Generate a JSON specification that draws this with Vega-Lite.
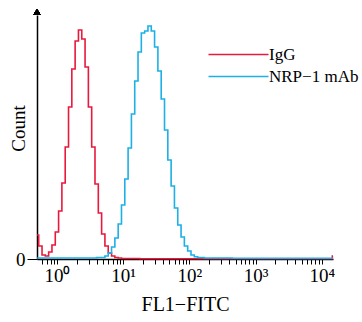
{
  "$schema": "https://vega.github.io/schema/vega-lite/v6.json",
  "width": 296,
  "height": 244,
  "autosize": "none",
  "padding": {"left": 37, "top": 15, "right": 29, "bottom": 63},
  "background": "white",
  "config": {
    "view": {"stroke": null},
    "font": "Liberation Serif",
    "axis": {"grid": false, "domainColor": "black", "tickColor": "black", "labelColor": "black", "titleColor": "black", "titleFontWeight": "normal", "labelFont": "Liberation Serif", "titleFont": "Liberation Serif", "domainWidth": 1.5}
  },
  "data": {"values": [
    {"x": 0.501, "count": 24, "sample": "IgG"},
    {"x": 0.562, "count": 13, "sample": "IgG"},
    {"x": 0.631, "count": 4, "sample": "IgG"},
    {"x": 0.708, "count": 3, "sample": "IgG"},
    {"x": 0.794, "count": 7, "sample": "IgG"},
    {"x": 0.891, "count": 14, "sample": "IgG"},
    {"x": 1.0, "count": 27, "sample": "IgG"},
    {"x": 1.122, "count": 48, "sample": "IgG"},
    {"x": 1.259, "count": 76, "sample": "IgG"},
    {"x": 1.413, "count": 112, "sample": "IgG"},
    {"x": 1.585, "count": 152, "sample": "IgG"},
    {"x": 1.778, "count": 190, "sample": "IgG"},
    {"x": 1.995, "count": 218, "sample": "IgG"},
    {"x": 2.239, "count": 229, "sample": "IgG"},
    {"x": 2.512, "count": 220, "sample": "IgG"},
    {"x": 2.818, "count": 192, "sample": "IgG"},
    {"x": 3.162, "count": 152, "sample": "IgG"},
    {"x": 3.548, "count": 112, "sample": "IgG"},
    {"x": 3.981, "count": 75, "sample": "IgG"},
    {"x": 4.467, "count": 46, "sample": "IgG"},
    {"x": 5.012, "count": 25, "sample": "IgG"},
    {"x": 5.623, "count": 13, "sample": "IgG"},
    {"x": 6.31, "count": 6, "sample": "IgG"},
    {"x": 7.079, "count": 3, "sample": "IgG"},
    {"x": 7.943, "count": 1.5, "sample": "IgG"},
    {"x": 8.913, "count": 1, "sample": "IgG"},
    {"x": 10, "count": 0.5, "sample": "IgG"},
    {"x": 31.62, "count": 0.3, "sample": "IgG"},
    {"x": 100, "count": 0.3, "sample": "IgG"},
    {"x": 1000, "count": 0.3, "sample": "IgG"},
    {"x": 10000, "count": 0.3, "sample": "IgG"},
    {"x": 14125, "count": 0.3, "sample": "IgG"},
    {"x": 14791, "count": 3, "sample": "IgG"},
    {"x": 0.501, "count": 1, "sample": "NRP−1 mAb"},
    {"x": 3.162, "count": 1, "sample": "NRP−1 mAb"},
    {"x": 5.012, "count": 1.5, "sample": "NRP−1 mAb"},
    {"x": 5.623, "count": 3, "sample": "NRP−1 mAb"},
    {"x": 6.31, "count": 6, "sample": "NRP−1 mAb"},
    {"x": 7.079, "count": 12, "sample": "NRP−1 mAb"},
    {"x": 7.943, "count": 21, "sample": "NRP−1 mAb"},
    {"x": 8.913, "count": 35, "sample": "NRP−1 mAb"},
    {"x": 10, "count": 54, "sample": "NRP−1 mAb"},
    {"x": 11.22, "count": 80, "sample": "NRP−1 mAb"},
    {"x": 12.59, "count": 111, "sample": "NRP−1 mAb"},
    {"x": 14.13, "count": 145, "sample": "NRP−1 mAb"},
    {"x": 15.85, "count": 178, "sample": "NRP−1 mAb"},
    {"x": 17.78, "count": 207, "sample": "NRP−1 mAb"},
    {"x": 19.95, "count": 226, "sample": "NRP−1 mAb"},
    {"x": 22.39, "count": 228, "sample": "NRP−1 mAb"},
    {"x": 25.12, "count": 233, "sample": "NRP−1 mAb"},
    {"x": 28.18, "count": 228, "sample": "NRP−1 mAb"},
    {"x": 31.62, "count": 212, "sample": "NRP−1 mAb"},
    {"x": 35.48, "count": 188, "sample": "NRP−1 mAb"},
    {"x": 39.81, "count": 160, "sample": "NRP−1 mAb"},
    {"x": 44.67, "count": 129, "sample": "NRP−1 mAb"},
    {"x": 50.12, "count": 99, "sample": "NRP−1 mAb"},
    {"x": 56.23, "count": 73, "sample": "NRP−1 mAb"},
    {"x": 63.1, "count": 51, "sample": "NRP−1 mAb"},
    {"x": 70.79, "count": 34, "sample": "NRP−1 mAb"},
    {"x": 79.43, "count": 22, "sample": "NRP−1 mAb"},
    {"x": 89.13, "count": 13, "sample": "NRP−1 mAb"},
    {"x": 100, "count": 8, "sample": "NRP−1 mAb"},
    {"x": 112.2, "count": 4, "sample": "NRP−1 mAb"},
    {"x": 125.9, "count": 2.3, "sample": "NRP−1 mAb"},
    {"x": 141.3, "count": 1.5, "sample": "NRP−1 mAb"},
    {"x": 199.5, "count": 1, "sample": "NRP−1 mAb"},
    {"x": 1000, "count": 0.8, "sample": "NRP−1 mAb"},
    {"x": 10000, "count": 0.8, "sample": "NRP−1 mAb"},
    {"x": 14791, "count": 0.8, "sample": "NRP−1 mAb"}
  ]},
  "layer": [
    {
      "mark": {"type": "line", "interpolate": "step", "strokeWidth": 1.6},
      "encoding": {
        "x": {
          "field": "x", "type": "quantitative",
          "scale": {"type": "log", "domain": [0.5, 14791], "nice": false},
          "axis": {
            "title": "FL1−FITC", "titleFontSize": 20, "titlePadding": 9,
            "values": [0.6, 0.7, 0.8, 0.9, 1, 2, 3, 4, 5, 6, 7, 8, 9, 10, 20, 30, 40, 50, 60, 70, 80, 90, 100, 200, 300, 400, 500, 600, 700, 800, 900, 1000, 2000, 3000, 4000, 5000, 6000, 7000, 8000, 9000, 10000],
            "labelExpr": "datum.value == 1 ? '10⁰' : datum.value == 10 ? '10¹' : datum.value == 100 ? '10²' : datum.value == 1000 ? '10³' : datum.value == 10000 ? '10⁴' : ''",
            "labelFontSize": 19, "tickSize": 5, "labelPadding": 2, "labelOverlap": false, "labelFlush": false
          }
        },
        "y": {
          "field": "count", "type": "quantitative",
          "scale": {"domain": [0, 244], "nice": false},
          "axis": {
            "title": "Count", "titleFontSize": 19, "values": [0], "tickSize": 10, "labelFontSize": 19, "labelPadding": 2,
            "titleX": -13, "titleY": 113, "titleAngle": -90, "titleBaseline": "alphabetic", "titleAlign": "center"
          }
        },
        "color": {
          "field": "sample", "type": "nominal",
          "scale": {"domain": ["IgG", "NRP−1 mAb"], "range": ["#e8193c", "#1cb0e6"]},
          "legend": {
            "title": null, "orient": "none", "legendX": 221, "legendY": 31, "padding": 0,
            "symbolType": "M-29,0H1", "symbolSize": 16, "symbolStrokeWidth": 1.3, "symbolFillColor": "transparent",
            "labelFont": "Liberation Serif", "labelFontSize": 17, "labelColor": "black", "labelOffset": -6, "rowPadding": 4
          }
        }
      }
    },
    {
      "mark": {"type": "point", "shape": "triangle-up", "filled": true, "color": "black", "size": 45, "opacity": 1},
      "encoding": {
        "x": {"datum": 0.5, "type": "quantitative"},
        "y": {"datum": 247, "type": "quantitative"}
      }
    }
  ]
}
